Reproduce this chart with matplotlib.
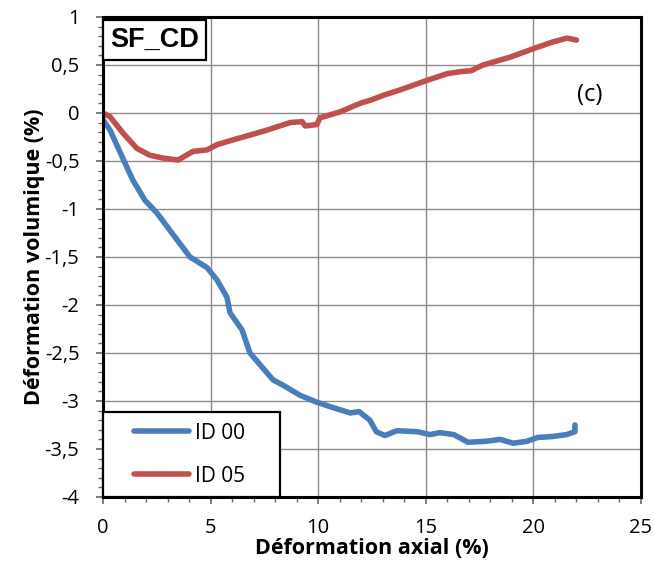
import numpy as np
import matplotlib
matplotlib.use("Agg")
import matplotlib.pyplot as plt
from matplotlib.ticker import MultipleLocator, FuncFormatter
from matplotlib.legend_handler import HandlerLine2D

# ── DATA ──────────────────────────────────────────────────────
id00_x = [0.0, 0.33, 1.1, 1.39, 1.95, 2.5, 4.04, 4.83, 5.3, 5.76, 5.9, 6.46,
          6.83, 7.9, 8.4, 9.15, 9.9, 10.7, 11.5, 11.9, 12.4, 12.7, 13.1, 13.65,
          14.6, 15.2, 15.66, 16.3, 16.96, 17.8, 18.45, 19.06, 19.7, 20.2, 20.9,
          21.55, 21.93, 21.93]
id00_y = [-0.07, -0.18, -0.56, -0.70, -0.91, -1.04, -1.50, -1.61, -1.74, -1.92,
          -2.08, -2.26, -2.50, -2.78, -2.84, -2.94, -3.01, -3.07, -3.125, -3.11,
          -3.20, -3.32, -3.36, -3.31, -3.32, -3.35, -3.33, -3.35, -3.43, -3.42,
          -3.40, -3.44, -3.42, -3.38, -3.37, -3.35, -3.32, -3.25]

id05_x = [0.0, 0.33, 0.93, 1.58, 2.18, 2.79, 3.49, 4.18, 4.83, 5.3, 6.04, 6.83,
          7.6, 8.69, 9.25, 9.4, 9.94, 10.08, 11.0, 11.94, 12.45, 13.1, 13.8,
          15.06, 16.0, 16.6, 17.1, 17.66, 18.9, 20.0, 20.9, 21.56, 22.0]
id05_y = [0.0, -0.04, -0.21, -0.37, -0.44, -0.47, -0.49, -0.40, -0.385, -0.33,
          -0.28, -0.23, -0.18, -0.10, -0.09, -0.135, -0.12, -0.05, 0.01, 0.10,
          0.135, 0.19, 0.24, 0.34, 0.41, 0.43, 0.44, 0.50, 0.58, 0.67, 0.74,
          0.78, 0.76]

series_names = ["ID 00", "ID 05"]

BLUE = "#4A7EBB"
RED = "#C0504D"

plt.rcParams["font.family"] = ["Open Sans", "DejaVu Sans"]

fig = plt.figure(figsize=(6.54, 5.76), dpi=100)
ax = fig.add_axes([0.1575, 0.1372, 0.8226, 0.8333])

ax.plot(id00_x, id00_y, color=BLUE, lw=4.0, solid_capstyle="round",
        solid_joinstyle="round", label=series_names[0])
ax.plot(id05_x, id05_y, color=RED, lw=4.0, solid_capstyle="round",
        solid_joinstyle="round", label=series_names[1])

ax.set_xlim(0, 25)
ax.set_ylim(-4, 1)
ax.xaxis.set_major_locator(MultipleLocator(5))
ax.xaxis.set_minor_locator(MultipleLocator(1))
ax.yaxis.set_major_locator(MultipleLocator(0.5))
ax.yaxis.set_minor_locator(MultipleLocator(0.1))


def comma_fmt(v, pos):
    if abs(v - round(v)) < 1e-9:
        return f"{int(round(v))}"
    return f"{v:.1f}".replace(".", ",")


ax.yaxis.set_major_formatter(FuncFormatter(comma_fmt))

ax.grid(True, which="major", color="#8C8C8C", lw=1.0)
ax.set_axisbelow(True)
for s in ax.spines.values():
    s.set_linewidth(2.2)
    s.set_color("black")

ax.tick_params(which="major", direction="out", length=5, width=1.2,
               color="#666666", labelsize=14.5)
ax.tick_params(which="minor", direction="out", length=3.5, width=1.0,
               color="#666666")
ax.tick_params(axis="y", which="major", pad=12)
ax.tick_params(axis="x", which="major", pad=10)

ax.set_xlabel("Déformation axial (%)", fontsize=15.5, fontweight="bold",
              labelpad=0)
ax.set_ylabel("Déformation volumique (%)", fontsize=15.5, fontweight="bold",
              labelpad=0)

# sample tag, box flush with the left spine
ax.text(0.013, 0.979, "SF_CD", transform=ax.transAxes, fontsize=19.5,
        fontweight="bold", family="Liberation Sans", va="top", ha="left",
        bbox=dict(boxstyle="square,pad=0.25", fc="white", ec="black", lw=1.6))
ax.text(0.905, 0.838, "(c)", transform=ax.transAxes, fontsize=17,
        ha="center", va="center")

leg = ax.legend(loc="lower left", bbox_to_anchor=(0, 0, 0.329, 0.2),
                mode="expand", fontsize=15, frameon=True, fancybox=False,
                handlelength=3.65, borderaxespad=0, borderpad=0.5,
                labelspacing=1.05, handletextpad=0.25,
                handler_map={plt.Line2D: HandlerLine2D(xpad=1.0)})
leg.get_frame().set_edgecolor("black")
leg.get_frame().set_linewidth(1.6)
leg.get_frame().set_alpha(1)

fig.savefig("out.png", dpi=100, facecolor="white")
